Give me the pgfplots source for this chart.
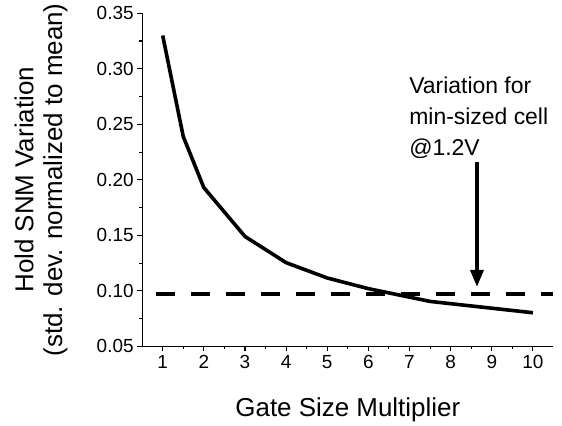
\documentclass[border=0pt]{standalone}
\usepackage{fontspec}
\setmainfont{Liberation Sans}
\usepackage{pgfplots}
\pgfplotsset{compat=1.18}
\usetikzlibrary{calc, arrows.meta}

\begin{document}
\begin{tikzpicture}
  \begin{axis}[
    scale only axis,
    width=411bp, height=332.8bp,
    xmin=0.5, xmax=10.5,
    ymin=0.05, ymax=0.35,
    axis x line*=bottom, axis y line*=left,
    axis line style={line width=1.1bp},
    xtick={1,...,10},
    ytick={0.05,0.10,...,0.36},
    minor x tick num=1, minor y tick num=1,
    tick align=outside,
    major tick length=5bp, minor tick length=3bp,
    every tick/.style={black, line width=1.1bp},
    yticklabel style={/pgf/number format/.cd, fixed, fixed zerofill, precision=2},
    /pgf/number format/assume math mode=true,
    tick label style={font=\fontsize{19}{19}\selectfont},
    xticklabel style={text height=13.7bp, text depth=0bp},
    xlabel={Gate Size Multiplier},
    ylabel={Hold SNM Variation\\(std. dev. normalized to mean)},
    every axis x label/.style={at={(rel axis cs:0.5,0)}, anchor=base, yshift=-70.5bp,
      font=\fontsize{26}{29}\selectfont},
    every axis y label/.style={at={(rel axis cs:0,0.5)}, xshift=-101bp, rotate=90,
      anchor=center, align=center, font=\fontsize{26}{29}\selectfont},
    clip=false,
  ]
  % solid curve
  \addplot[black, line width=3.6bp, line join=round] coordinates {
    (1,0.330) (1.5,0.239) (2,0.193) (3,0.149) (4,0.1254) (5,0.1116)
    (6,0.102) (7.5,0.0905) (10,0.0803)
  };
  % reference level for min-sized cell
  \addplot[black, line width=3.8bp, dash pattern=on 18.5bp off 16.5bp] coordinates {
    (0.84,0.097) (10.5,0.097)
  };
  \draw[black, line width=3.6bp, -{Triangle[length=17bp, width=13bp]}]
    (axis cs:8.64,0.2163) -- (axis cs:8.64,0.1036);
  \node[anchor=north west, inner sep=0pt, align=left, font=\fontsize{23}{31}\selectfont]
    at (axis cs:6.99,0.2929) {Variation for\\min-sized cell\\@1.2V};
  \end{axis}
  \path ($(current axis.south west)+(-142bp,-75.5bp)$) rectangle ($(current axis.north east)+(8.5bp,11.7bp)$);
\end{tikzpicture}
\end{document}
